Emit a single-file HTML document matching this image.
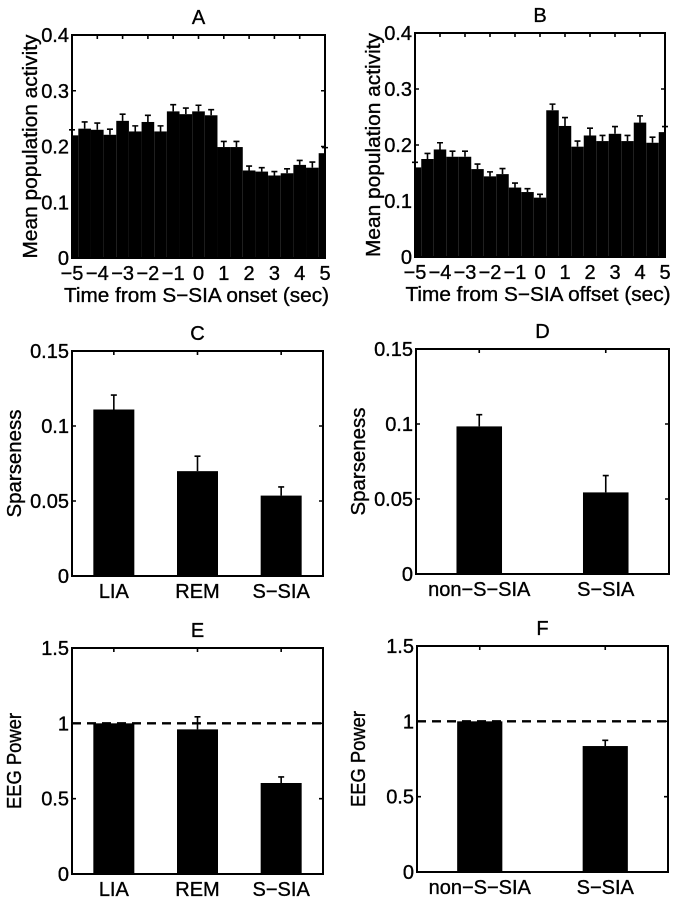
<!DOCTYPE html>
<html><head><meta charset="utf-8"><style>
html,body{margin:0;padding:0;background:#fff;}
svg{display:block;font-family:"Liberation Sans",Arial,sans-serif;}
svg text{stroke:#000;stroke-width:0.35px;}
</style></head><body>
<svg id="fig" width="681" height="899" viewBox="0 0 681 899"></svg>
<script>
// Panel A data (bins every 0.5 s)
const timeBins = [-5,-4.5,-4,-3.5,-3,-2.5,-2,-1.5,-1,-0.5,0,0.5,1,1.5,2,2.5,3,3.5,4,4.5,5];
const onsetActivity = [0.22,0.232,0.23,0.221,0.246,0.227,0.244,0.227,0.263,0.258,0.263,0.256,0.199,0.199,0.157,0.155,0.148,0.152,0.167,0.162,0.188];
const onsetErr = [0.01,0.012,0.012,0.01,0.012,0.01,0.012,0.01,0.012,0.011,0.011,0.01,0.01,0.01,0.008,0.007,0.007,0.008,0.008,0.01,0.01];
// Panel B data
const offsetActivity = [0.16,0.175,0.192,0.179,0.179,0.157,0.144,0.148,0.124,0.116,0.106,0.262,0.234,0.197,0.217,0.207,0.22,0.207,0.24,0.204,0.223];
const offsetErr = [0.009,0.01,0.012,0.01,0.01,0.009,0.008,0.01,0.008,0.006,0.006,0.011,0.015,0.01,0.013,0.01,0.013,0.01,0.012,0.01,0.01];
const timeTicks = [-5,-4,-3,-2,-1,0,1,2,3,4,5];
const activityTicks = [0,0.1,0.2,0.3,0.4];
// Panel C / D
const stateCats3 = ["LIA","REM","S-SIA"];
const stateCats2 = ["non-S-SIA","S-SIA"];
const sparse3 = [0.111,0.0699,0.0536];
const sparse3Err = [0.0096,0.0100,0.0058];
const sparse2 = [0.0984,0.0544];
const sparse2Err = [0.0078,0.0112];
const sparseTicks = [0,0.05,0.1,0.15];
const sparseTickLabels = ["0","0.05","0.1","0.15"];
// Panel E / F
const eeg3 = [1.0,0.96,0.604];
const eeg3Err = [0.0,0.083,0.04];
const eeg2 = [1.0,0.836];
const eeg2Err = [0.0,0.038];
const eegTicks = [0,0.5,1,1.5];
const eegTickLabels = ["0","0.5","1","1.5"];

const NS="http://www.w3.org/2000/svg";
const svg=document.getElementById('fig');
const FS=20;
function mk(tag,attrs,parent){const e=document.createElementNS(NS,tag);for(const k in attrs)e.setAttribute(k,attrs[k]);(parent||svg).appendChild(e);return e;}
function txt(s,attrs,parent){const t=mk('text',attrs,parent);t.textContent=s;return t;}

function panel(o){
  const g=mk('g',{});
  
  
  const sx=v=>o.x0+(v-o.xmin)/(o.xmax-o.xmin)*(o.x1-o.x0);
  const sy=v=>o.y1-(v-o.ymin)/(o.ymax-o.ymin)*(o.y1-o.y0);
  const bars=mk('g',{},g);
  
  
  o.xs.forEach((xv,i)=>{
    let l=sx(xv-o.bw/2), r=sx(xv+o.bw/2);
    l=Math.max(l,o.x0); r=Math.min(r,o.x1);
    const top=sy(o.vals[i]);
    const b=mk('rect',{x:l,y:top,width:r-l,height:o.y1-top,fill:'#000'},bars);
    
    
    if(o.errs[i]>0){
      const cx=sx(xv), et=sy(o.vals[i]+o.errs[i]);
      const eb=mk('path',{d:`M${cx},${top}V${et}M${cx-o.cap},${et}H${cx+o.cap}`,stroke:'#000','stroke-width':1.6,fill:'none'},bars);
      
      
    }
  });
  if(o.dash!==undefined){
    const dl=mk('line',{x1:o.x0,x2:o.x1,y1:sy(o.dash),y2:sy(o.dash),stroke:'#000','stroke-width':2.4,'stroke-dasharray':'9,6'},g);
    
    
  }
  const box=mk('rect',{x:o.x0,y:o.y0,width:o.x1-o.x0,height:o.y1-o.y0,fill:'none',stroke:'#000','stroke-width':2},g);
  
  
  o.yt.forEach((v,i)=>{
    const y=sy(v);
    mk('path',{d:`M${o.x0},${y}h4M${o.x1},${y}h-4`,stroke:'#000','stroke-width':1.6},g);
    const t=txt(o.ytl[i],{x:o.x0-3,y:y+7,'text-anchor':'end','font-size':FS},g);
    
    
  });
  o.xt.forEach((v,i)=>{
    const x=sx(v);
    mk('path',{d:`M${x},${o.y1}v-4M${x},${o.y0}v4`,stroke:'#000','stroke-width':1.6},g);
    const t=txt(o.xtl[i],{x:x,y:o.y1+22,'text-anchor':'middle','font-size':FS},g);
    
    
  });
  const ti=txt(o.letter,{x:(o.x0+o.x1)/2,y:o.y0-11,'text-anchor':'middle','font-size':FS},g);
  
  
  const cy=(o.y0+o.y1)/2;
  const yl=txt(o.ylab,{x:0,y:0,'text-anchor':'middle','font-size':FS,textLength:o.ylw,lengthAdjust:'spacingAndGlyphs',transform:`translate(${o.ylx},${cy}) rotate(-90)`},g);
  
  
  if(o.xlab){
    const xl=txt(o.xlab,{x:(o.x0+o.x1)/2-2,y:o.y1+44,'text-anchor':'middle','font-size':FS,textLength:o.xlw,lengthAdjust:'spacingAndGlyphs'},g);
    
    
  }
}
const fmt=v=>v===0?"0":String(v);
const timeTickLabels=timeTicks.map(v=>v<0?"\u2212"+(-v):String(v));
const actTickLabels=activityTicks.map(fmt);

panel({letter:'A',x0:72,x1:325,y0:35,y1:258,xmin:-5,xmax:5,ymin:0,ymax:0.4,xs:timeBins,vals:onsetActivity,errs:onsetErr,bw:0.5,cap:3,
  xt:timeTicks,xtl:timeTickLabels,yt:activityTicks,ytl:actTickLabels,ylab:'Mean population activity',ylx:37,ylw:224,
  xlab:'Time from S\u2212SIA onset (sec)',xlw:265});
panel({letter:'B',x0:415,x1:665,y0:33,y1:257,xmin:-5,xmax:5,ymin:0,ymax:0.4,xs:timeBins,vals:offsetActivity,errs:offsetErr,bw:0.5,cap:3,
  xt:timeTicks,xtl:timeTickLabels,yt:activityTicks,ytl:actTickLabels,ylab:'Mean population activity',ylx:380,ylw:224,
  xlab:'Time from S\u2212SIA offset (sec)',xlw:265});
panel({letter:'C',x0:72,x1:323,y0:351,y1:576,xmin:0.5,xmax:3.5,ymin:0,ymax:0.15,xs:[1,2,3],cats:stateCats3,vals:sparse3,errs:sparse3Err,bw:0.49,cap:3,
  xt:[1,2,3],xtl:stateCats3.map(s=>s.replace('-','\u2212')),yt:sparseTicks,ytl:sparseTickLabels,ylab:'Sparseness',ylx:21,ylw:108});
panel({letter:'D',x0:416,x1:669,y0:349,y1:574,xmin:0.5,xmax:2.5,ymin:0,ymax:0.15,xs:[1,2],cats:stateCats2,vals:sparse2,errs:sparse2Err,bw:0.36,cap:3,
  xt:[1,2],xtl:stateCats2.map(s=>s.replace(/-/g,'\u2212')),yt:sparseTicks,ytl:sparseTickLabels,ylab:'Sparseness',ylx:365,ylw:108});
panel({letter:'E',x0:72,x1:323,y0:648,y1:874,xmin:0.5,xmax:3.5,ymin:0,ymax:1.5,xs:[1,2,3],cats:stateCats3,vals:eeg3,errs:eeg3Err,bw:0.49,cap:3,
  xt:[1,2,3],xtl:stateCats3.map(s=>s.replace('-','\u2212')),yt:eegTicks,ytl:eegTickLabels,ylab:'EEG Power',ylx:21,ylw:96,dash:1});
panel({letter:'F',x0:417,x1:668,y0:646,y1:872,xmin:0.5,xmax:2.5,ymin:0,ymax:1.5,xs:[1,2],cats:stateCats2,vals:eeg2,errs:eeg2Err,bw:0.36,cap:3,
  xt:[1,2],xtl:stateCats2.map(s=>s.replace(/-/g,'\u2212')),yt:eegTicks,ytl:eegTickLabels,ylab:'EEG Power',ylx:365,ylw:96,dash:1});
</script>
</body></html>
